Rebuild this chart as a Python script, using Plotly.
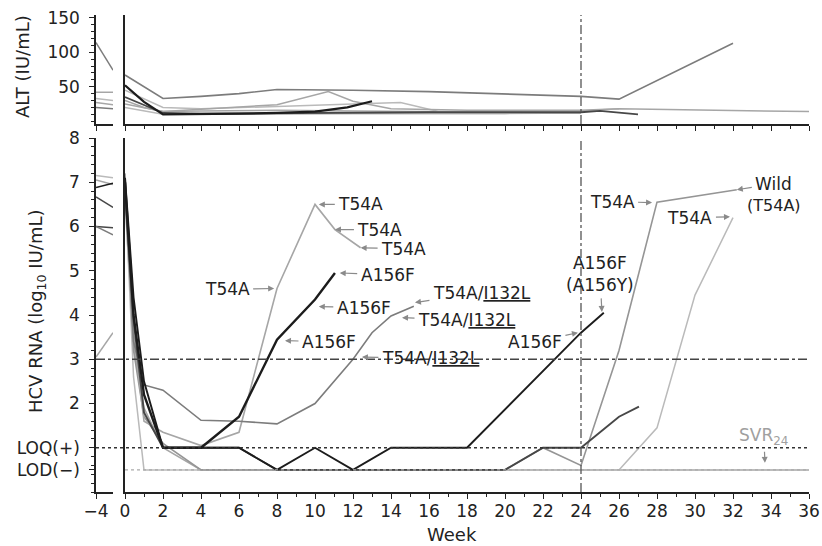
import plotly.graph_objects as go

# ---------------- data ----------------
# pre-treatment stub (week -4 .. -1)
pre_weeks = [-4, -1]
rna_pre_1 = [7.15, 7.10]
rna_pre_2 = [7.05, 6.95]
rna_pre_3 = [6.88, 6.98]
rna_pre_4 = [6.67, 6.43]
rna_pre_5 = [6.00, 5.97]
rna_pre_6 = [6.00, 5.81]
rna_pre_7 = [3.05, 3.60]

alt_pre_1 = [114, 74]
alt_pre_2 = [42, 42]
alt_pre_3 = [33, 30]
alt_pre_4 = [27, 24]
alt_pre_5 = [20, 18]

# HCV RNA (log10 IU/mL) on treatment
rna_A_weeks = [0, 0.45, 1, 2, 4, 6, 8, 10, 11.05, 12.4]
rna_A_vals = [7.0, 3.6, 1.6, 1.35, 1.05, 1.35, 4.6, 6.5, 5.93, 5.52]
rna_B_weeks = [0, 0.45, 1, 2, 4, 6, 8, 10, 11.05]
rna_B_vals = [7.0, 4.0, 2.2, 1.0, 1.0, 1.7, 3.44, 4.35, 4.95]
rna_C_weeks = [0, 0.45, 1, 2, 4, 6, 8, 10, 12, 13, 14, 15.2]
rna_C_vals = [6.9, 3.4, 2.42, 2.3, 1.62, 1.6, 1.54, 2.0, 3.0, 3.6, 3.98, 4.2]
rna_D_weeks = [0, 0.45, 1, 2, 4, 6, 8, 10, 12, 14, 16, 18, 24, 25.2]
rna_D_vals = [7.1, 4.4, 2.5, 1.0, 1.0, 1.0, 0.5, 1.0, 0.5, 1.0, 1.0, 1.0, 3.6, 4.05]
rna_E_weeks = [0, 0.45, 1, 2, 4, 6, 8, 12, 16, 20, 22, 24, 26, 27.05]
rna_E_vals = [6.8, 3.9, 1.8, 1.0, 1.0, 1.0, 0.5, 0.5, 0.5, 0.5, 1.0, 1.0, 1.7, 1.93]
rna_F_weeks = [0, 0.45, 1, 2, 4, 20, 22, 24, 26, 28, 32.2]
rna_F_vals = [7.2, 3.2, 1.7, 1.1, 0.5, 0.5, 1.0, 0.6, 3.2, 6.55, 6.83]
rna_G_weeks = [0, 0.45, 1, 26, 28, 30, 32]
rna_G_vals = [6.9, 2.6, 0.5, 0.5, 1.45, 4.45, 6.2]
rna_H_weeks = [0, 0.45, 1, 2, 4, 36]
rna_H_vals = [6.6, 3.3, 1.9, 1.0, 0.5, 0.5]

# ALT (IU/mL) on treatment
alt_a_weeks = [0, 2, 4, 6, 8, 10, 12, 16, 20, 24, 26, 32]
alt_a_vals = [67, 33, 36, 40, 46, 46, 45, 43, 40, 36, 32, 113]
alt_b_weeks = [0, 1, 2, 4, 6, 8, 10.7, 12, 14, 18, 24, 26, 36]
alt_b_vals = [30, 20, 14, 17, 20, 24, 43, 29, 18, 16, 16, 18, 14]
alt_c_weeks = [0, 2, 4, 8, 12, 14.5, 16.5, 24, 26]
alt_c_vals = [45, 20, 18, 22, 25, 27, 14, 15, 18]
alt_d_weeks = [0, 1, 2, 4, 6, 8, 10, 11.7, 13]
alt_d_vals = [52, 28, 10, 10, 11, 12, 14, 20, 29]
alt_e_weeks = [0, 2, 4, 8, 12, 16, 20, 24, 25, 27]
alt_e_vals = [35, 12, 11, 12, 13, 13, 13, 13, 15, 10]
alt_f_weeks = [0, 2, 4, 8, 12, 18, 24]
alt_f_vals = [25, 14, 15, 16, 15, 14, 12]
alt_g_weeks = [0, 2, 6, 12, 20, 24]
alt_g_vals = [20, 10, 10, 11, 11, 12]

rna_ticks = [0.5, 1, 2, 3, 4, 5, 6, 7, 8]
rna_ticktext = ["LOD(−)", "LOQ(+)", "2", "3", "4", "5", "6", "7", "8"]
alt_ticks = [50, 100, 150]
LOQ = 1.0
LOD = 0.5
CUTOFF = 3.0
END_TREATMENT = 24

# ---------------- styles ----------------
BLACK = "#1c1c1c"
DARK = "#474747"
MID = "#7c7c7c"
LIGHT = "#a6a6a6"
PALE = "#bababa"
FONT = "DejaVu Sans"

fig = go.Figure()

def add(x, y, xa, ya, color, width=1.5):
    fig.add_trace(go.Scatter(x=x, y=y, xaxis=xa, yaxis=ya, mode="lines",
                             line=dict(color=color, width=width),
                             hoverinfo="skip", showlegend=False))

for vals, col in [(rna_pre_1, PALE), (rna_pre_2, LIGHT), (rna_pre_3, BLACK),
                  (rna_pre_4, DARK), (rna_pre_5, DARK), (rna_pre_6, MID),
                  (rna_pre_7, LIGHT)]:
    add(pre_weeks, vals, "x", "y", col, 1.5)

for vals, col in [(alt_pre_1, MID), (alt_pre_2, LIGHT), (alt_pre_3, PALE),
                  (alt_pre_4, LIGHT), (alt_pre_5, MID)]:
    add(pre_weeks, vals, "x3", "y3", col, 1.5)

add(rna_H_weeks, rna_H_vals, "x2", "y2", LIGHT, 1.5)
add(rna_G_weeks, rna_G_vals, "x2", "y2", PALE, 1.5)
add(rna_F_weeks, rna_F_vals, "x2", "y2", "#959595", 1.6)
add(rna_A_weeks, rna_A_vals, "x2", "y2", LIGHT, 1.6)
add(rna_C_weeks, rna_C_vals, "x2", "y2", MID, 1.6)
add(rna_E_weeks, rna_E_vals, "x2", "y2", DARK, 1.9)
add(rna_D_weeks, rna_D_vals, "x2", "y2", BLACK, 1.9)
add(rna_B_weeks, rna_B_vals, "x2", "y2", BLACK, 2.4)

add(alt_g_weeks, alt_g_vals, "x4", "y4", PALE, 1.5)
add(alt_f_weeks, alt_f_vals, "x4", "y4", LIGHT, 1.5)
add(alt_c_weeks, alt_c_vals, "x4", "y4", PALE, 1.5)
add(alt_b_weeks, alt_b_vals, "x4", "y4", LIGHT, 1.5)
add(alt_e_weeks, alt_e_vals, "x4", "y4", DARK, 1.8)
add(alt_a_weeks, alt_a_vals, "x4", "y4", MID, 1.6)
add(alt_d_weeks, alt_d_vals, "x4", "y4", BLACK, 2.2)

# ---------------- layout ----------------
W, H = 822, 546
ML, MR, MT, MB = 96, 13, 15, 54
PW, PH = W - ML - MR, H - MT - MB

def px_x(p):
    return (p - ML) / PW

def px_y(p):
    return (H - MB - p) / PH

stub_dom = [0, px_x(113)]
main_dom = [px_x(125), 1]
bot_dom = [0, px_y(138)]
top_dom = [px_y(124), 1]

tfont = dict(family=FONT, size=17, color="#222")
axline = dict(showline=True, linecolor="#222", linewidth=1.5, showgrid=False,
              zeroline=False, tickcolor="#222", tickfont=tfont, automargin=False)

fig.update_layout(
    template="none",
    width=W, height=H, margin=dict(l=ML, r=MR, t=MT, b=MB, autoexpand=False),
    paper_bgcolor="white", plot_bgcolor="white",
    font=dict(family=FONT, size=17, color="#222"),
    xaxis=dict(domain=stub_dom, range=[-4, -1], anchor="y", ticks="outside",
               ticklen=5, tickmode="array", tickvals=[-4], ticktext=["−4"],
               ticklabelstandoff=-2, **axline),
    yaxis=dict(domain=bot_dom, range=[0, 8], anchor="x", ticks="outside",
               ticklen=5, tickmode="array", tickvals=rna_ticks,
               ticktext=rna_ticktext, ticklabelstandoff=6,
               minor=dict(tickvals=[i * 0.2 for i in range(0, 41)], ticklen=3,
                          ticks="outside", tickcolor="#222"),
               **axline),
    xaxis2=dict(domain=main_dom, range=[0, 36], anchor="y2", ticks="outside",
                ticklen=5, tickmode="linear", tick0=0, dtick=2,
                ticklabelstandoff=-2,
                minor=dict(dtick=1, ticklen=3, ticks="outside", tickcolor="#222"),
                **axline),
    yaxis2=dict(domain=bot_dom, range=[0, 8], anchor="x2", ticks="",
                showticklabels=False, **axline),
    xaxis3=dict(domain=stub_dom, range=[-4, -1], anchor="y3", ticks="outside",
                ticklen=5, tickmode="array", tickvals=[-4], showticklabels=False,
                **axline),
    yaxis3=dict(domain=top_dom, range=[-4, 154], anchor="x3", ticks="outside",
                ticklen=5, tickmode="array", tickvals=alt_ticks,
                ticklabelstandoff=6,
                minor=dict(tickvals=list(range(0, 151, 10)), ticklen=3,
                           ticks="outside", tickcolor="#222"),
                **axline),
    xaxis4=dict(domain=main_dom, range=[0, 36], anchor="y4", ticks="outside",
                ticklen=5, tickmode="linear", tick0=0, dtick=2,
                showticklabels=False,
                minor=dict(dtick=1, ticklen=3, ticks="outside", tickcolor="#222"),
                **axline),
    yaxis4=dict(domain=top_dom, range=[-4, 154], anchor="x4", ticks="",
                showticklabels=False, **axline),
)

fig.add_shape(type="line", xref="paper", x0=0, x1=1, yref="y", y0=CUTOFF, y1=CUTOFF,
              line=dict(color="#444", width=1.3, dash="dashdot"))
fig.add_shape(type="line", xref="paper", x0=0, x1=1, yref="y", y0=LOQ, y1=LOQ,
              line=dict(color="#333", width=1.4, dash="dot"))
fig.add_shape(type="line", xref="x2", x0=0, x1=36, yref="y2", y0=LOD, y1=LOD,
              line=dict(color="#aaa", width=1.4, dash="dot"))
fig.add_shape(type="line", xref="x2", x0=END_TREATMENT, x1=END_TREATMENT, yref="y2",
              y0=0, y1=8, line=dict(color="#555", width=1.3, dash="dashdot"))
fig.add_shape(type="line", xref="x4", x0=END_TREATMENT, x1=END_TREATMENT, yref="y4",
              y0=-4, y1=154, line=dict(color="#555", width=1.3, dash="dashdot"))

def note(text, x, y, ax, ay, size=17, color="#222", arrow=True):
    fig.add_annotation(text=text, x=x, y=y, xref="x2", yref="y2", ax=ax, ay=ay,
                       showarrow=arrow, arrowcolor="#8a8a8a", arrowhead=2,
                       arrowsize=1, arrowwidth=1.2, standoff=0, startstandoff=2,
                       font=dict(family=FONT, size=size, color=color))

note("T54A", 7.85, 4.6, -47, 1)
note("T54A", 10.2, 6.5, 42, 0)
note("T54A", 11.05, 5.93, 45, 0)
note("T54A", 12.4, 5.52, 43, 1)
note("A156F", 11.3, 4.95, 48, 2)
note("A156F", 10.2, 4.19, 45, 1)
note("A156F", 8.42, 3.42, 44, 1)
note("T54A/<u>I132L</u>", 15.26, 4.28, 67, -10)
note("T54A/<u>I132L</u>", 14.58, 3.94, 65, 2)
note("T54A/<u>I132L</u>", 12.47, 3.05, 69, 1)
note("A156F", 23.84, 3.6, -43, 9)
note("A156F<br>(A156Y)", 25.1, 4.07, -2, -38)
note("T54A", 27.74, 6.54, -40, -1)
note("T54A", 31.84, 6.22, -40, 1)
note("Wild", 32.2, 6.83, 37, -6)
note("(T54A)", 34.16, 6.47, 0, 0, size=16, arrow=False)
note("SVR<sub>24</sub>", 33.68, 0.66, -1, -26, color="#a0a0a0")

def title(text, x, y, angle=0):
    fig.add_annotation(text=text, xref="paper", yref="paper", x=x, y=y,
                       xanchor="center", yanchor="middle", textangle=angle,
                       showarrow=False, font=dict(family=FONT, size=18, color="#222"))

title("ALT (IU/mL)", px_x(22), px_y(67), -90)
title("HCV RNA (log<sub>10</sub> IU/mL)", px_x(37), px_y(311), -90)
title("Week", px_x(452), px_y(534))

fig.write_html("out.html", config={"displayModeBar": False},
               post_script="document.body.style.margin='0px';")
